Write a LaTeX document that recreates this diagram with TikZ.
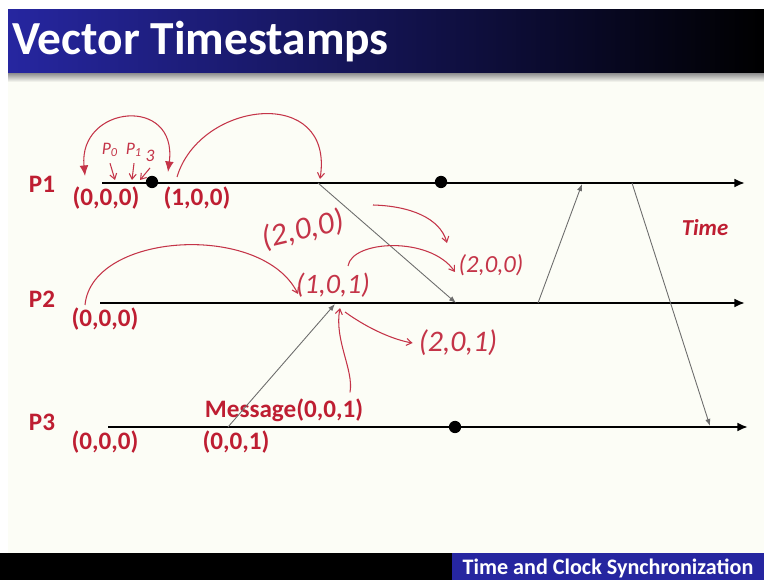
\documentclass[tikz,border=0pt]{standalone}
\usepackage{fontspec}
\setmainfont{Carlito}
\usetikzlibrary{arrows.meta, calc}
\definecolor{slideblue}{RGB}{38, 38, 160}
\definecolor{labelred}{RGB}{190, 30, 50}
\definecolor{penred}{RGB}{196, 52, 72}
\definecolor{slidebg}{RGB}{252, 253, 246}

\begin{document}
\begin{tikzpicture}[x=0.02cm, y=-0.02cm, >={Latex[length=6pt,width=5pt]},
    proc/.style={line width=1.2pt, black, ->},
    msg/.style={gray!85!black, line width=0.5pt, -{Latex[length=4pt,width=3pt]}},
    stamp/.style={text=labelred, font=\bfseries\fontsize{14.3}{15}\selectfont},
    pen/.style={penred, line width=0.6pt, -{Straight Barb[length=3pt,width=4pt]}},
    hand/.style={text=penred, font=\itshape\fontsize{10}{10}\selectfont},
    evt/.style={circle, fill=black, inner sep=0pt, minimum size=7pt}]

    \useasboundingbox (0,0) rectangle (764,580);

    % ==========================================================
    % fondo de la diapositiva
    % ==========================================================
    \fill[white] (0,0) rectangle (764,580);
    \fill[slidebg] (8,10) rectangle (764,553);
    \shade[left color=slideblue, middle color=slideblue!70!black, right color=black]
        (8,10) rectangle (764,74);
    \shade[top color=gray!80, bottom color=slidebg] (8,74) rectangle (764,82);
    \node[white, anchor=west, font=\bfseries\fontsize{27}{29}\selectfont] (title) at (6,42) {Vector Timestamps};

    \fill[black] (0,553) rectangle (764,580);
    \fill[slideblue] (452,553) rectangle (764,580);
    \node[white, font=\bfseries\fontsize{12.6}{13}\selectfont] (footer) at (608,568) {Time and Clock Synchronization};

    % ==========================================================
    % procesos
    % ==========================================================
    \coordinate (p1s) at (102,183); \coordinate (p1e) at (745,183);
    \coordinate (p2s) at (100,303); \coordinate (p2e) at (745,303);
    \coordinate (p3s) at (108,427); \coordinate (p3e) at (748,427);
    \draw[proc] (p1s) -- (p1e);
    \draw[proc] (p2s) -- (p2e);
    \draw[proc] (p3s) -- (p3e);

    \node[stamp] (lab1) at (42,184) {P1};
    \node[stamp] (lab2) at (42,299) {P2};
    \node[stamp] (lab3) at (42,422) {P3};

    \node[evt] (e1) at (152,182) {};
    \node[evt] (e2) at (441,182) {};
    \node[evt] (e3) at (455,427) {};

    \node[stamp] (s10) at (106,198) {(0,0,0)};
    \node[stamp] (s11) at (197,198) {(1,0,0)};
    \node[stamp] (s20) at (105,319) {(0,0,0)};
    \node[stamp] (s30) at (105,442) {(0,0,0)};
    \node[stamp] (s31) at (236,442) {(0,0,1)};
    \node[stamp] (smsg) at (284,410) {Message(0,0,1)};
    \node[text=labelred, font=\bfseries\itshape\fontsize{13}{13}\selectfont] (time) at (705,228) {Time};

    % mensajes
    \coordinate (m1a) at (228,427); \coordinate (m1b) at (335,304);
    \coordinate (m2a) at (318,183); \coordinate (m2b) at (456,303);
    \coordinate (m3a) at (538,303); \coordinate (m3b) at (582,184);
    \coordinate (m4a) at (632,183); \coordinate (m4b) at (710,426);
    \draw[msg] (m1a) -- (m1b);
    \draw[msg] (m2a) -- (m2b);
    \draw[msg] (m3a) -- (m3b);
    \draw[msg] (m4a) -- (m4b);

    % ==========================================================
    % anotaciones a mano
    % ==========================================================
    \draw[pen, <->] (85,176) .. controls (78,105) and (178,95) .. (168,172);
    \draw[pen] (177,177) .. controls (200,100) and (335,85) .. (320,179);
    \draw[pen] (85,305) .. controls (92,232) and (262,222) .. (298,294);

    \node[hand] (h0) at (110,150) {P\textsubscript{0}};
    \node[hand] (h1) at (134,150) {P\textsubscript{1}};
    \node[hand] (h3) at (150,156) {3};
    \draw[pen] (h0.south) -- (115,180);
    \draw[pen] (h1.south) -- (132,180);
    \draw[pen] (h3.south) -- (140,180);

    \node[hand, font=\itshape\fontsize{18}{18}\selectfont, rotate=13] (h200) at (303,230) {(2,0,0)};
    \node[hand, font=\itshape\fontsize{16}{16}\selectfont] (h101) at (333,285) {(1,0,1)};
    \node[hand, font=\itshape\fontsize{14}{14}\selectfont] (h200b) at (491,265) {(2,0,0)};
    \node[hand, font=\itshape\fontsize{17}{17}\selectfont] (h201) at (458,343) {(2,0,1)};

    \draw[pen] (373,205) .. controls (410,206) and (440,218) .. (447,243);
    \draw[pen] (348,266) .. controls (352,240) and (430,236) .. (455,272);
    \draw[pen] (345,312) .. controls (370,330) and (395,340) .. (h201.west);
    \draw[pen] (smsg.north -| 350,0) .. controls (354,370) and (334,340) .. (340,308);

\end{tikzpicture}
\end{document}
